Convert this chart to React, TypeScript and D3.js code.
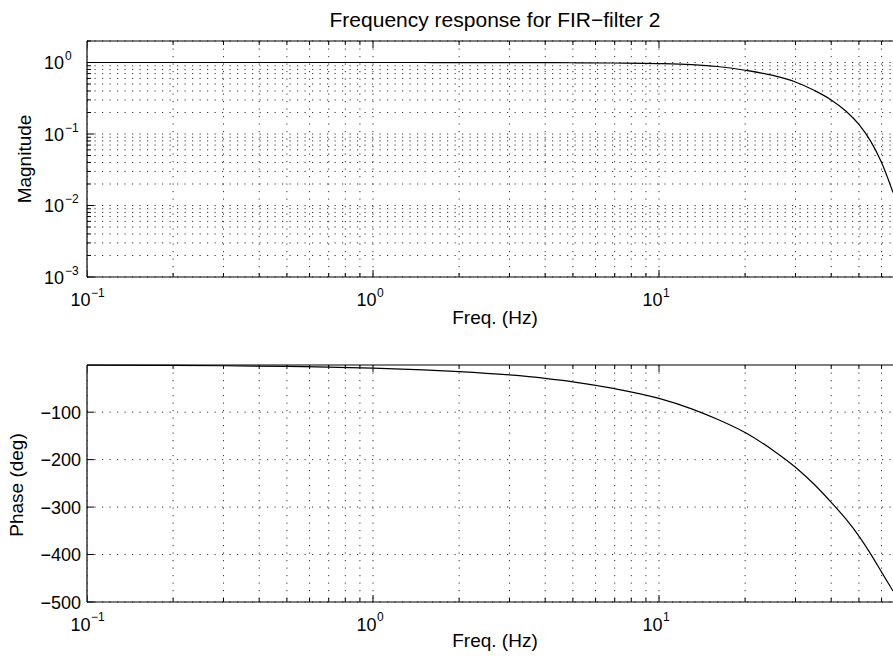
import React from "react";
import * as d3 from "d3";

const W = 893;
const H = 657;

// Data
const freqs = [0.1, 0.2, 0.3, 0.5, 0.7, 1, 1.5, 2, 3, 4, 5, 7, 10, 13, 16, 20, 25, 30, 35, 40, 45, 50, 55, 60, 65.8];
const magnitude = [1, 1, 1, 1, 1, 1, 1, 0.999, 0.997, 0.995, 0.992, 0.985, 0.968, 0.935, 0.88, 0.78, 0.66, 0.535, 0.405, 0.3, 0.21, 0.136, 0.079, 0.040, 0.0152];
const phase = [-0.7, -1.5, -2.2, -3.6, -5.1, -7.2, -10.8, -14.4, -21.6, -28.8, -36, -50.5, -71, -93, -115, -143, -180, -216, -253, -290, -325, -361, -399, -437, -477];

const freqTickExps = [-1, 0, 1];
const magTickExps = [-3, -2, -1, 0];
const phaseTicks = [-500, -400, -300, -200, -100];

const titleText = "Frequency response for FIR\u2212filter 2";
const xLabelText = "Freq. (Hz)";
const magLabelText = "Magnitude";
const phaseLabelText = "Phase (deg)";

const FONT = "'Liberation Sans', Arial, Helvetica, sans-serif";

const left = 87;
const right = 903;
const top1 = 41, bottom1 = 277;
const top2 = 365, bottom2 = 602;

const x = d3.scaleLog().domain([0.1, 71.3]).range([left, right]);
const yMag = d3.scaleLog().domain([1e-3, 2]).range([bottom1, top1]);
const yPh = d3.scaleLinear().domain([-500, -0.6]).range([bottom2, top2]);

const minusStr = (n: number) => (n < 0 ? "\u2212" + Math.abs(n) : String(n));

function minorLog(lo: number, hi: number): number[] {
  const out: number[] = [];
  for (let e = Math.floor(Math.log10(lo)); e <= Math.ceil(Math.log10(hi)); e++) {
    for (let k = 1; k <= 9; k++) {
      const v = k * Math.pow(10, e);
      if (v >= lo - 1e-12 && v <= hi + 1e-12) out.push(v);
    }
  }
  return out;
}

export default function App() {
  const xs = minorLog(0.1, 71.3);
  const magGrid = minorLog(1e-3, 2);
  const magLine = d3
    .line<number>()
    .x((_, i) => x(freqs[i]))
    .y((d) => yMag(d))
    .curve(d3.curveMonotoneX)(magnitude) as string;
  const phLine = d3
    .line<number>()
    .x((_, i) => x(freqs[i]))
    .y((d) => yPh(d))
    .curve(d3.curveMonotoneX)(phase) as string;

  const gridStyle = { stroke: "#333", strokeWidth: 1, strokeDasharray: "1.2 6.3", fill: "none" } as const;

  const isMajor = (v: number) => Math.abs(Math.log10(v) - Math.round(Math.log10(v))) < 1e-9;

  return (
    <svg width={W} height={H} style={{ position: "absolute", left: 0, top: 0, background: "#fff" }} fontFamily={FONT}>
      <style>{`body{margin:0}`}</style>
      <defs>
        <clipPath id="c1"><rect x={left} y={top1 - 2} width={W - left} height={bottom1 - top1 + 4} /></clipPath>
        <clipPath id="c2"><rect x={left} y={top2 - 2} width={W - left} height={bottom2 - top2 + 4} /></clipPath>
      </defs>
      <rect x={0} y={0} width={W} height={H} fill="#fff" />

      {/* Title */}
      <text x={(left + right) / 2} y={27} textAnchor="middle" fontSize={21}>{titleText}</text>

      {/* ===== Top plot ===== */}
      <g clipPath="url(#c1)">
        {xs.map((v, i) => (
          <line key={"vg" + i} x1={x(v)} x2={x(v)} y1={top1} y2={bottom1} {...gridStyle} />
        ))}
        {magGrid.map((v, i) => (
          <line key={"hg" + i} x1={left} x2={right} y1={yMag(v)} y2={yMag(v)} {...gridStyle} />
        ))}
        {xs.map((v, i) => {
          const L = isMajor(v) ? 7 : 4;
          return (
            <g key={"xt" + i}>
              <line x1={x(v)} x2={x(v)} y1={bottom1} y2={bottom1 - L} stroke="#000" />
              <line x1={x(v)} x2={x(v)} y1={top1} y2={top1 + L} stroke="#000" />
            </g>
          );
        })}
        {magGrid.map((v, i) => {
          const L = isMajor(v) ? 7 : 4;
          return <line key={"yt" + i} x1={left} x2={left + L} y1={yMag(v)} y2={yMag(v)} stroke="#000" />;
        })}
        <path d={magLine} fill="none" stroke="#000" strokeWidth={1.2} />
        <line x1={left} x2={right} y1={top1} y2={top1} stroke="#000" strokeWidth={1.2} />
        <line x1={left} x2={right} y1={bottom1} y2={bottom1} stroke="#000" strokeWidth={1.2} />
      </g>
      <line x1={left} x2={left} y1={top1} y2={bottom1} stroke="#000" strokeWidth={1.2} />

      {magTickExps.map((e) => {
        const yy = yMag(Math.pow(10, e));
        return (
          <g key={"ml" + e}>
            <text x={64} y={yy + 6.8} textAnchor="end" fontSize={18}>10</text>
            <text x={65} y={yy - 2.5} fontSize={12}>{minusStr(e)}</text>
          </g>
        );
      })}
      {freqTickExps.map((e) => {
        const xx = x(Math.pow(10, e));
        return (
          <g key={"fl1" + e}>
            <text x={xx + 3.5} y={bottom1 + 29} textAnchor="end" fontSize={18}>10</text>
            <text x={xx + 4} y={bottom1 + 19.5} fontSize={12}>{minusStr(e)}</text>
          </g>
        );
      })}
      <text x={(left + right) / 2} y={324} textAnchor="middle" fontSize={19}>{xLabelText}</text>
      <text transform={`translate(31,${(top1 + bottom1) / 2}) rotate(-90)`} textAnchor="middle" fontSize={19}>{magLabelText}</text>

      {/* ===== Bottom plot ===== */}
      <g clipPath="url(#c2)">
        {xs.map((v, i) => (
          <line key={"vg2" + i} x1={x(v)} x2={x(v)} y1={top2} y2={bottom2} {...gridStyle} />
        ))}
        {phaseTicks.map((v, i) => (
          <line key={"hg2" + i} x1={left} x2={right} y1={yPh(v)} y2={yPh(v)} {...gridStyle} />
        ))}
        {xs.map((v, i) => {
          const L = isMajor(v) ? 7 : 4;
          return (
            <g key={"xt2" + i}>
              <line x1={x(v)} x2={x(v)} y1={bottom2} y2={bottom2 - L} stroke="#000" />
              <line x1={x(v)} x2={x(v)} y1={top2} y2={top2 + L} stroke="#000" />
            </g>
          );
        })}
        {phaseTicks.map((v, i) => (
          <line key={"yt2" + i} x1={left} x2={left + 7} y1={yPh(v)} y2={yPh(v)} stroke="#000" />
        ))}
        <path d={phLine} fill="none" stroke="#000" strokeWidth={1.2} />
        <line x1={left} x2={right} y1={top2} y2={top2} stroke="#000" strokeWidth={1.2} />
        <line x1={left} x2={right} y1={bottom2} y2={bottom2} stroke="#000" strokeWidth={1.2} />
      </g>
      <line x1={left} x2={left} y1={top2} y2={bottom2} stroke="#000" strokeWidth={1.2} />

      {phaseTicks.map((v) => (
        <text key={"pl" + v} x={81} y={yPh(v) + 6.5} textAnchor="end" fontSize={18}>{minusStr(v)}</text>
      ))}
      {freqTickExps.map((e) => {
        const xx = x(Math.pow(10, e));
        return (
          <g key={"fl2" + e}>
            <text x={xx + 3.5} y={bottom2 + 28.5} textAnchor="end" fontSize={18}>10</text>
            <text x={xx + 4} y={bottom2 + 18.5} fontSize={12}>{minusStr(e)}</text>
          </g>
        );
      })}
      <text x={(left + right) / 2} y={647} textAnchor="middle" fontSize={19}>{xLabelText}</text>
      <text transform={`translate(23,485) rotate(-90)`} textAnchor="middle" fontSize={19}>{phaseLabelText}</text>
    </svg>
  );
}
